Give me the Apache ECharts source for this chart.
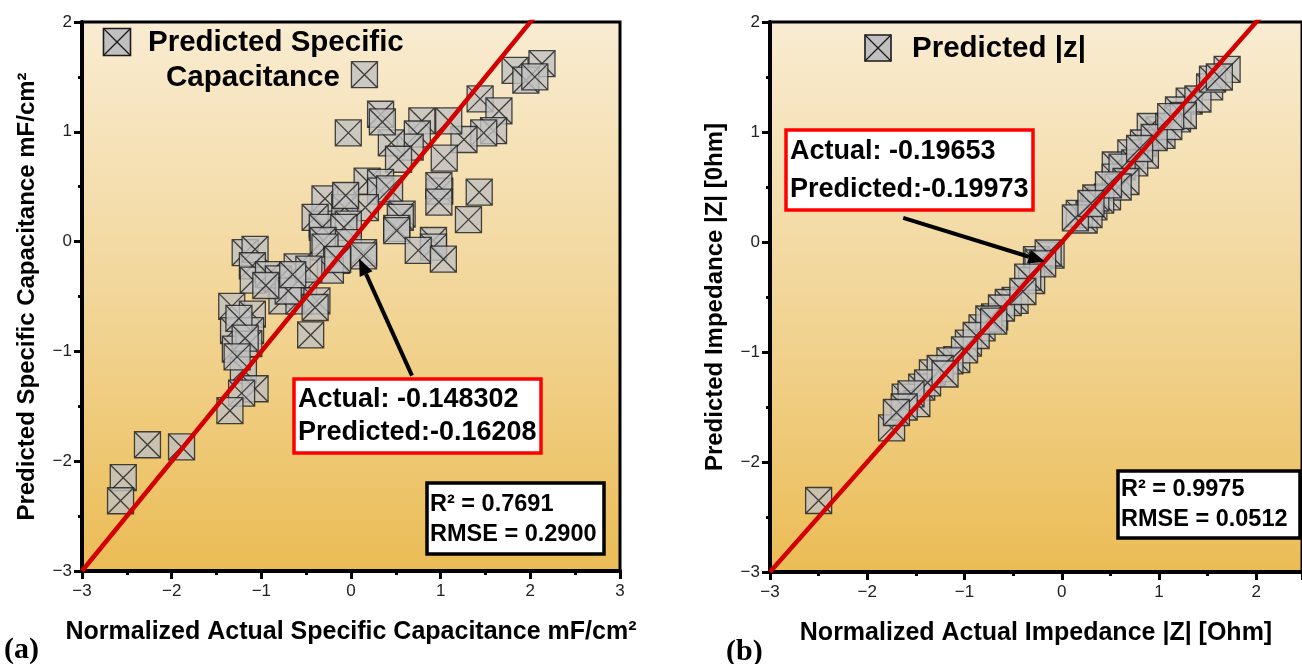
<!DOCTYPE html>
<html><head><meta charset="utf-8">
<script src="https://cdn.jsdelivr.net/npm/echarts@6/dist/echarts.min.js"></script>
<style>html,body{margin:0;padding:0;background:#fff}#c{width:1302px;height:664px}</style>
</head><body><div id="c"></div>
<script>
// ---------- DATA ----------
// (a) Normalized actual vs predicted specific capacitance
const capActual = [2.13,1.83,1.95,2.05,1.44,1.65,1.59,1.48,1.26,1.04,1.09,0.79,0.74,0.66,0.45,0.53,0.33,0.35,0.15,-0.03,
  0.18,0.33,0.33,0.43,0.99,0.98,1.43,0.98,1.31,0.57,0.55,0.51,0.51,0.92,0.92,0.75,1.03,
  -0.29,-0.32,0.16,-0.07,-0.06,-0.40,-0.03,-0.32,-0.08,-0.31,-0.03,-0.29,0.14,0.14,-0.16,-0.23,-0.148302,
  -1.18,-1.07,-1.10,-1.09,-0.60,-0.92,-0.81,-0.77,-0.53,-0.58,-0.38,-0.40,-0.45,
  -1.33,-1.10,-1.31,-1.12,-1.29,-1.14,-1.20,-1.07,-1.22,-1.35,
  -2.27,-1.89,-2.54,-2.57,
  -0.70,-0.95,-0.47,-0.65,-1.25,-1.18,-1.27];
const capPred = [1.62,1.56,1.47,1.50,1.30,1.19,1.01,0.99,0.93,0.76,1.10,1.10,0.98,0.86,0.90,0.75,1.16,1.09,1.52,0.99,
  0.55,0.54,0.46,0.48,0.46,0.51,0.45,0.36,0.20,0.25,0.22,0.12,0.10,0.01,-0.05,-0.08,-0.16,
  0.39,0.16,0.31,0.31,0.42,0.22,0.16,0.13,0.13,0.01,-0.01,-0.05,-0.10,-0.13,-0.17,-0.26,-0.16208,
  -0.10,-0.07,-0.22,-0.35,-0.23,-0.30,-0.34,-0.54,-0.46,-0.54,-0.54,-0.60,-0.85,
  -0.59,-0.66,-0.81,-0.81,-0.98,-0.93,-1.17,-1.34,-1.38,-1.54,
  -1.85,-1.87,-2.15,-2.36,
  -0.45,-0.40,-0.25,-0.30,-0.70,-0.88,-1.05];
// (b) Normalized actual vs predicted impedance |Z|
const zActual = [1.70,1.52,1.31,1.20,1.19,1.00,1.03,0.91,0.84,0.86,0.71,0.55,0.55,0.47,0.33,0.23,0.18,-0.11,-0.26,-0.245,
  -0.31,-0.48,-0.69,-0.82,-0.96,-1.08,-1.33,-1.44,-1.61,-1.49,-1.75,-2.50,
  1.40,1.25,1.10,0.95,0.75,0.62,0.66,0.58,0.40,0.35,0.28,0.14,-0.14,-0.19653,-0.35,-0.55,-0.62,-0.75,-0.88,-1.00,-1.15,-1.25,-1.38,-1.55,-1.62,
  1.55,1.12,0.80,0.48,0.30,-0.40,-0.70,-1.20,-1.70,1.62];
const zPred = [1.57,1.41,1.28,1.20,1.12,1.02,0.97,1.05,0.90,0.79,0.81,0.70,0.59,0.41,0.32,0.20,0.26,-0.12,-0.16,-0.19,
  -0.35,-0.53,-0.68,-0.78,-0.92,-1.07,-1.19,-1.32,-1.41,-1.47,-1.69,-2.35,
  1.30,1.15,1.05,0.95,0.72,0.68,0.55,0.50,0.38,0.40,0.25,0.22,-0.10,-0.19973,-0.32,-0.55,-0.60,-0.70,-0.85,-0.98,-1.08,-1.15,-1.28,-1.38,-1.50,
  1.48,1.14,0.85,0.52,0.35,-0.45,-0.72,-1.20,-1.55,1.50];
// ideal y = x reference line
const idealLine = [-3, 3];
// axis ranges
const capXRange = [-3, 3], capYRange = [-3, 2];
const zXRange = [-3, 2.47], zYRange = [-3, 2];
// annotation texts
const capLegend = ['Predicted Specific', 'Capacitance'];
const zLegend = 'Predicted |z|';
const capAnno = ['Actual: -0.148302', 'Predicted:-0.16208'];
const zAnno = ['Actual: -0.19653', 'Predicted:-0.19973'];
const capStats = ['R² = 0.7691', 'RMSE = 0.2900'];
const zStats = ['R² = 0.9975', 'RMSE = 0.0512'];
// arrow (tail, tip) in data coordinates
const capArrow = [[0.68, -1.22], [0.09, -0.155]];
const zArrow = [[-1.63, 0.22], [-0.17, -0.18]];

// ---------- CHART ----------
const chart = echarts.init(document.getElementById('c'));
const FONT = '"Liberation Sans", Arial, sans-serif';
const pairs = (a, b) => a.map((v, i) => [v, b[i]]);
const fmt = v => (v < 0 ? '\u2212' : '') + Math.abs(v);
const SYM = 'path://M0,0H10V10H0Z M0,0L10,10 M10,0L0,10';
const bg = {type:'linear', x:0, y:0, x2:0, y2:1, colorStops:[{offset:0, color:'#f9ecd2'},{offset:0.5,color:'#f2d699'},{offset:1, color:'#ebbc55'}]};

function xAxis(idx, rng, name, showMax) {
  return {gridIndex: idx, type:'value', min: rng[0], max: rng[1], interval: 1,
    name: name, nameLocation:'middle', nameGap: 49,
    nameTextStyle:{fontFamily: FONT, fontWeight:'bold', fontSize: 25, color:'#000'},
    axisLine:{show:true, onZero:false, lineStyle:{color:'#000', width:4}},
    axisTick:{show:true, length:8, lineStyle:{color:'#000', width:3}},
    minorTick:{show:true, splitNumber:2, length:4, lineStyle:{color:'#000', width:3}},
    splitLine:{show:false},
    axisLabel:{formatter: fmt, fontFamily: FONT, fontSize: 17, color:'#222', margin: 12, showMaxLabel: showMax}};
}
function yAxis(idx, rng, name) {
  return {gridIndex: idx, type:'value', min: rng[0], max: rng[1], interval: 1,
    name: name, nameLocation:'middle', nameGap: 43,
    nameTextStyle:{fontFamily: FONT, fontWeight:'bold', fontSize: 24, color:'#000'},
    axisLine:{show:true, onZero:false, lineStyle:{color:'#000', width:4}},
    axisTick:{show:true, length:8, lineStyle:{color:'#000', width:3}},
    minorTick:{show:true, splitNumber:2, length:4, lineStyle:{color:'#000', width:3}},
    splitLine:{show:false},
    axisLabel:{formatter: fmt, fontFamily: FONT, fontSize: 17, color:'#222', margin: 10}};
}
const scatterStyle = {color:'#c0c0c0', borderColor:'#1a1a1a', borderWidth:1.3};

chart.setOption({
  animation: false,
  backgroundColor: '#fff',
  grid: [
    {left: 82, top: 22, width: 538, height: 549, show: true, backgroundColor: bg, borderColor:'#000', borderWidth: 3},
    {left: 770, top: 22, width: 536, height: 550, show: true, backgroundColor: bg, borderColor:'#000', borderWidth: 3}
  ],
  xAxis: [xAxis(0, capXRange, 'Normalized Actual Specific Capacitance mF/cm²', true),
          xAxis(1, zXRange, 'Normalized Actual Impedance |Z| [Ohm]', false)],
  yAxis: [yAxis(0, capYRange, 'Predicted Specific Capacitance mF/cm²'),
          yAxis(1, zYRange, 'Predicted Impedance |Z| [0hm]')],
  series: [
    {type:'scatter', name:'Predicted Specific Capacitance', xAxisIndex:0, yAxisIndex:0, symbol: SYM, symbolSize: 26,
     itemStyle: scatterStyle, data: pairs(capActual, capPred), z: 2},
    {type:'line', xAxisIndex:0, yAxisIndex:0, data: pairs(idealLine, idealLine), symbol:'none', clip: true,
     lineStyle:{color:'#d20000', width:4.5}, z: 3},
    {type:'scatter', name:'Predicted |z|', xAxisIndex:1, yAxisIndex:1, symbol: SYM, symbolSize: 26,
     itemStyle: scatterStyle, data: pairs(zActual, zPred), z: 2},
    {type:'line', xAxisIndex:1, yAxisIndex:1, data: pairs(idealLine, idealLine), symbol:'none', clip: true,
     lineStyle:{color:'#d20000', width:4.5}, z: 3}
  ]
});

// ---------- ANNOTATIONS ----------
function legendIcon(cx, cy, s) {
  const h = s / 2;
  return {type:'group', z: 20, children: [
    {type:'rect', shape:{x:cx-h, y:cy-h, width:s, height:s}, style:{fill:'#c0c0c0', stroke:'#1a1a1a', lineWidth:1.6}},
    {type:'line', shape:{x1:cx-h, y1:cy-h, x2:cx+h, y2:cy+h}, style:{stroke:'#1a1a1a', lineWidth:1.3}},
    {type:'line', shape:{x1:cx+h, y1:cy-h, x2:cx-h, y2:cy+h}, style:{stroke:'#1a1a1a', lineWidth:1.3}}
  ]};
}
function txt(x, y, s, size) {
  return {type:'text', z: 21, style:{x:x, y:y, text:s, font:'bold ' + size + 'px ' + FONT, fill:'#000', textVerticalAlign:'middle', verticalAlign:'middle'}};
}
function box(x, y, w, h, stroke) {
  return {type:'rect', z: 19, shape:{x:x, y:y, width:w, height:h}, style:{fill:'#fff', stroke: stroke, lineWidth: 3.5}};
}
function arrow(gi, pts) {
  const a = chart.convertToPixel({gridIndex: gi}, pts[0]);
  const b = chart.convertToPixel({gridIndex: gi}, pts[1]);
  const dx = b[0]-a[0], dy = b[1]-a[1], L = Math.hypot(dx, dy), ux = dx/L, uy = dy/L;
  const hl = 17, hw = 7;
  const bx = b[0]-ux*hl, by = b[1]-uy*hl;
  return [
    {type:'line', z: 22, shape:{x1:a[0], y1:a[1], x2:bx, y2:by}, style:{stroke:'#000', lineWidth:4}},
    {type:'polygon', z: 22, shape:{points:[[b[0],b[1]],[bx-uy*hw, by+ux*hw],[bx+uy*hw, by-ux*hw]]}, style:{fill:'#000'}}
  ];
}
const g = [
  legendIcon(117, 42, 27),
  txt(148, 43, capLegend[0], 29.5), txt(166, 78, capLegend[1], 29.5),
  legendIcon(878, 48, 26),
  txt(912, 49, zLegend, 29.5),
  box(294, 379, 247, 74, '#ff0000'),
  txt(298, 400, capAnno[0], 27), txt(298, 433, capAnno[1], 27),
  box(427, 483, 177, 71, '#000'),
  txt(430, 505, capStats[0], 23.5), txt(430, 535, capStats[1], 23.5),
  box(786, 130, 247, 80, '#ff0000'),
  txt(790, 152, zAnno[0], 27), txt(790, 190, zAnno[1], 27),
  box(1118, 471, 182, 67, '#000'),
  txt(1121, 490, zStats[0], 23.5), txt(1121, 520, zStats[1], 23.5),
  {type:'text', z: 21, style:{x:4, y:650, text:'(a)', font:'bold 30px "Liberation Serif", "Times New Roman", serif', fill:'#000', verticalAlign:'middle', textVerticalAlign:'middle'}},
  {type:'text', z: 21, style:{x:726, y:652, text:'(b)', font:'bold 30px "Liberation Serif", "Times New Roman", serif', fill:'#000', verticalAlign:'middle', textVerticalAlign:'middle'}}
].concat(arrow(0, capArrow), arrow(1, zArrow));
chart.setOption({graphic: g});
</script></body></html>
